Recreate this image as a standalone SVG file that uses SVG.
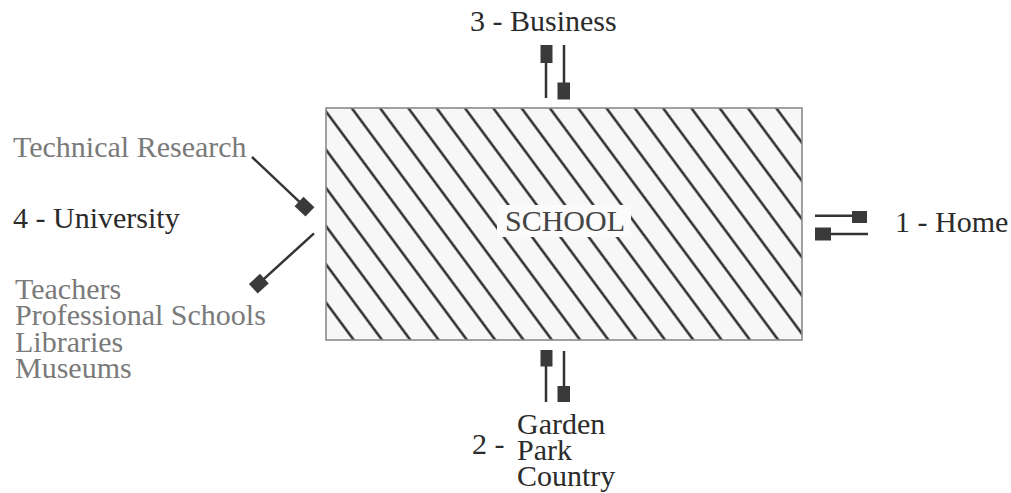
<svg xmlns="http://www.w3.org/2000/svg" width="1011" height="493" viewBox="0 0 1011 493">
  <style>
    text { font-family: "Liberation Serif", "DejaVu Serif", "Times New Roman", serif; font-size: 30px; }
    .dark { fill: #2b2b2b; }
    .grey { fill: #7a7a7a; }
    .wire { stroke: #333; stroke-width: 2.5; fill: none; }
    .plug { fill: #3a3a3a; }
  </style>
  <defs>
    <!-- diagonal hatching for the school block -->
    <pattern id="hatch" patternUnits="userSpaceOnUse" x="340.33" y="108" width="22.74" height="60"
             patternTransform="rotate(-36.53 351.7 108)">
      <rect width="22.74" height="60" fill="#f7f7f7"/>
      <line x1="11.37" y1="-1" x2="11.37" y2="61" stroke="#1e1e1e" stroke-width="2.3"/>
    </pattern>
  </defs>
  <rect width="1011" height="493" fill="#ffffff"/>

  <!-- central node -->
  <g id="school">
    <rect x="326" y="108" width="476" height="232" fill="url(#hatch)" stroke="#8a8a8a" stroke-width="1.6"/>
    <rect x="497" y="205" width="134" height="32" fill="#fbfbfb"/>
    <text x="565" y="230.5" text-anchor="middle" fill="#444">SCHOOL</text>
  </g>

  <g id="business">
    <text class="dark" x="470" y="31">3 - Business</text>
  </g>

  <g id="home">
    <text class="dark" x="895" y="232">1 - Home</text>
  </g>

  <g id="garden">
    <text class="dark" x="472" y="454">2 -</text>
    <text class="dark" x="517" y="434">Garden</text>
    <text class="dark" x="517" y="460">Park</text>
    <text class="dark" x="517" y="486">Country</text>
  </g>

  <g id="university">
    <text class="dark" x="13" y="228">4 - University</text>
  </g>

  <g id="research">
    <text class="grey" x="13" y="157">Technical Research</text>
  </g>

  <g id="resources">
    <text class="grey" x="15" y="299">Teachers</text>
    <text class="grey" x="15" y="325">Professional Schools</text>
    <text class="grey" x="15" y="351.5">Libraries</text>
    <text class="grey" x="15" y="378">Museums</text>
  </g>

  <!-- connectors (plug-and-socket links) -->
  <g id="connectors">
    <!-- top: business -->
    <line class="wire" x1="546" y1="62" x2="546" y2="98"/>
    <rect class="plug" x="540.5" y="45" width="12" height="18"/>
    <line class="wire" x1="564" y1="45" x2="564" y2="84"/>
    <rect class="plug" x="557.5" y="82.5" width="12.5" height="17"/>

    <!-- bottom: garden / park / country -->
    <line class="wire" x1="546" y1="365" x2="546" y2="402"/>
    <rect class="plug" x="540.5" y="350" width="12" height="16.5"/>
    <line class="wire" x1="564" y1="351" x2="564" y2="387"/>
    <rect class="plug" x="557.5" y="386" width="12.5" height="16"/>

    <!-- right: home -->
    <line class="wire" x1="815" y1="215.7" x2="853" y2="215.7"/>
    <rect class="plug" x="852" y="211" width="15" height="12"/>
    <line class="wire" x1="830" y1="234" x2="868" y2="234"/>
    <rect class="plug" x="815" y="227.5" width="16" height="13"/>

    <!-- left: technical research -->
    <line class="wire" x1="252" y1="157" x2="304.5" y2="206.7"/>
    <rect class="plug" x="-7.5" y="-6.5" width="15" height="13" transform="translate(304.5 206.7) rotate(43.4)"/>

    <!-- left: teachers, schools, libraries, museums -->
    <line class="wire" x1="314" y1="233.3" x2="258.8" y2="283.7"/>
    <rect class="plug" x="-7.5" y="-6.5" width="15" height="13" transform="translate(258.8 283.7) rotate(137.6)"/>
  </g>
</svg>
